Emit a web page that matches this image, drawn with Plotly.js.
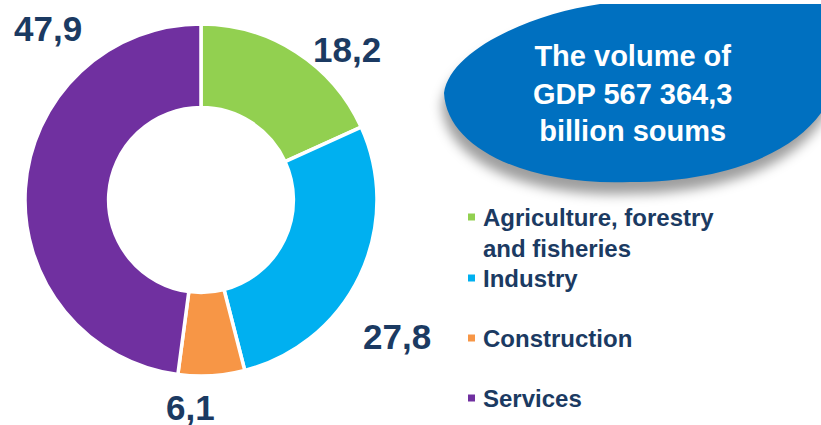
<!DOCTYPE html>
<html>
<head>
<meta charset="utf-8">
<script src="https://cdn.plot.ly/plotly-3.0.1.min.js"></script>
<style>
html,body{margin:0;padding:0;background:#fff;}
#chart{width:821px;height:425px;}
</style>
</head>
<body>
<div id="chart"></div>
<script>
// ---- data ----
const categories = ['Agriculture, forestry<br>and fisheries', 'Industry', 'Construction', 'Services'];
const shares = [18.2, 27.8, 6.1, 47.9];
const sliceColors = ['#92D050', '#00B0F0', '#F79646', '#7030A0'];
const boxTitle = 'The volume of<br>GDP 567 364,3<br>billion soums';

// ---- layout helpers (pixel space) ----
const W = 821, H = 425;
const FONT = 'Liberation Sans, Arial, sans-serif';
const NAVY = '#1B3A62';
const cx = 201, cy = 200, R = 176;

// label placement (pixel centers) for each slice value
const labelPos = [[347, 47], [397, 334], [190, 405], [48, 26]];
// legend rows (pixel y-centre of first line)
const legendY = [217, 278, 338, 398];

const fmt = v => v.toFixed(1).replace('.', ',');

const pie = {
  type: 'pie',
  values: shares,
  labels: categories,
  marker: {colors: sliceColors, line: {color: '#ffffff', width: 3.5}},
  hole: 0.525,
  sort: false,
  direction: 'clockwise',
  rotation: 0,
  textinfo: 'none',
  hoverinfo: 'label+value',
  showlegend: false,
  domain: {
    x: [(cx - R) / W, (cx + R) / W],
    y: [(H - cy - R) / H, (H - cy + R) / H]
  }
};

function ellipsePath(dx, dy) {
  const p = (x, y) => (x + dx) + ',' + (y + dy);
  return 'M ' + p(444, 93) +
    ' C ' + p(450, 50) + ' ' + p(530, 14) + ' ' + p(600, 4) +
    ' L ' + p(830, 4) +
    ' L ' + p(830, 98) +
    ' C ' + p(805, 150) + ' ' + p(730, 182) + ' ' + p(630, 182) +
    ' C ' + p(530, 186) + ' ' + p(447, 150) + ' ' + p(444, 93) + ' Z';
}

const shapes = [];
// shadow (blurred after drawing)
shapes.push({type: 'path', xref: 'x', yref: 'y', path: ellipsePath(-2, 12),
  fillcolor: 'rgba(0,0,0,0.38)', line: {width: 0}});
shapes.push({type: 'path', xref: 'x', yref: 'y', path: ellipsePath(0, 0),
  fillcolor: '#0070C0', line: {width: 0}});

// legend squares
sliceColors.forEach((c, i) => {
  shapes.push({type: 'rect', xref: 'x', yref: 'y',
    x0: 468, x1: 475, y0: legendY[i] - 3.5, y1: legendY[i] + 3.5,
    fillcolor: c, line: {width: 0}});
});

const annotations = [];
shares.forEach((v, i) => {
  annotations.push({xref: 'x', yref: 'y', x: labelPos[i][0], y: labelPos[i][1] + 2,
    xanchor: 'center', yanchor: 'middle', showarrow: false, text: fmt(v), borderpad: 0,
    font: {family: FONT, size: 35, color: NAVY, weight: 'bold'}});
});
categories.forEach((c, i) => {
  annotations.push({xref: 'x', yref: 'y', x: 481, y: legendY[i] - 15,
    xanchor: 'left', yanchor: 'top', align: 'left', showarrow: false, text: c,
    font: {family: FONT, size: 24, color: NAVY, weight: 'bold'}});
});
annotations.push({xref: 'x', yref: 'y', x: 632, y: 93,
  xanchor: 'center', yanchor: 'middle', align: 'center', showarrow: false, text: boxTitle,
  font: {family: FONT, size: 29, color: '#ffffff', weight: 'bold'}});

const layout = {
  width: W, height: H,
  margin: {l: 0, r: 0, t: 0, b: 0, pad: 0},
  paper_bgcolor: '#ffffff', plot_bgcolor: 'rgba(0,0,0,0)',
  xaxis: {range: [0, W], visible: false, fixedrange: true, domain: [0, 1]},
  yaxis: {range: [H, 0], visible: false, fixedrange: true, domain: [0, 1]},
  showlegend: false,
  shapes: shapes,
  annotations: annotations
};

const gd = document.getElementById('chart');
Plotly.newPlot(gd, [pie], layout, {displayModeBar: false, staticPlot: true}).then(() => {
  const ns = 'http://www.w3.org/2000/svg';
  const svg = gd.querySelector('svg.main-svg');
  let defs = svg.querySelector('defs');
  if (!defs) { defs = document.createElementNS(ns, 'defs'); svg.insertBefore(defs, svg.firstChild); }
  const f = document.createElementNS(ns, 'filter');
  f.setAttribute('id', 'shadowBlur');
  f.setAttribute('x', '-20%'); f.setAttribute('y', '-40%');
  f.setAttribute('width', '140%'); f.setAttribute('height', '180%');
  const b = document.createElementNS(ns, 'feGaussianBlur');
  b.setAttribute('stdDeviation', '6');
  f.appendChild(b);
  defs.appendChild(f);
  const first = gd.querySelector('.shapelayer path');
  if (first) first.setAttribute('filter', 'url(#shadowBlur)');
});
</script>
</body>
</html>
